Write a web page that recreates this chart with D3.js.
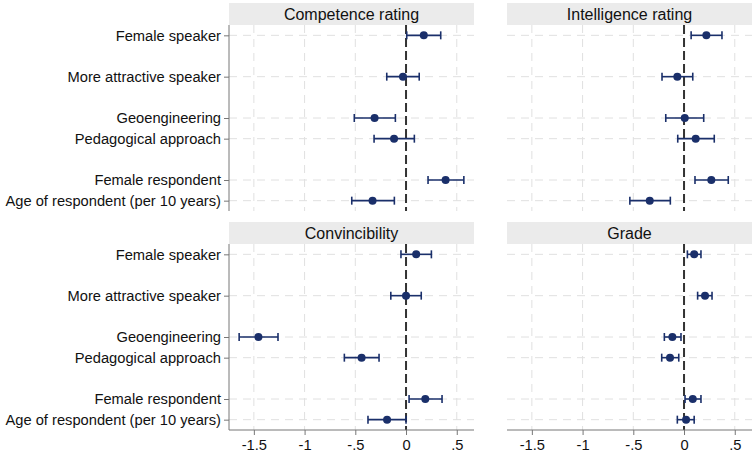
<!DOCTYPE html>
<html lang="en">
<head>
<meta charset="utf-8">
<title>coefficient plot</title>
<script src="https://d3js.org/d3.v7.min.js"></script>
<style type="text/css">
  body { margin: 0; background: #fff; }
  text { font-family: "Liberation Sans", Arial, sans-serif; fill: #111; }
  .grid { stroke: #e0e0e0; stroke-width: 1; stroke-dasharray: 8,6; }
  .zero { stroke: #333; stroke-width: 2; stroke-dasharray: 9,4; }
  .ci { stroke: #1a2f6a; stroke-width: 1.6; }
  .axisline { stroke: #777; stroke-width: 1; }
</style>
</head>
<body>
<script type="text/javascript">

// categories and their slot on the y axis (gaps between groups)
var categories = ["Female speaker", "More attractive speaker", "Geoengineering",
                  "Pedagogical approach", "Female respondent", "Age of respondent (per 10 years)"];
var slots = [1, 3, 5, 6, 8, 9];

var xTicks = [-1.5, -1, -0.5, 0, 0.5];
var xTickLabels = ["-1.5", "-1", "-.5", "0", ".5"];

var panelTitles = ["Competence rating", "Intelligence rating", "Convincibility", "Grade"];

// estimates and 95% CIs per panel
var competenceEst = [0.175, -0.03, -0.31, -0.118, 0.39, -0.33];
var competenceLo  = [0.007, -0.19, -0.51, -0.315, 0.217, -0.535];
var competenceHi  = [0.342, 0.13, -0.105, 0.082, 0.57, -0.115];

var intelligenceEst = [0.22, -0.066, 0.007, 0.115, 0.269, -0.338];
var intelligenceLo  = [0.07, -0.217, -0.18, -0.062, 0.108, -0.534];
var intelligenceHi  = [0.374, 0.086, 0.194, 0.298, 0.436, -0.135];

var convincEst = [0.10, 0.0, -1.455, -0.438, 0.19, -0.187];
var convincLo  = [-0.05, -0.15, -1.645, -0.608, 0.03, -0.375];
var convincHi  = [0.25, 0.15, -1.262, -0.266, 0.355, 0.0];

var gradeEst = [0.10, 0.207, -0.115, -0.138, 0.086, 0.02];
var gradeLo  = [0.033, 0.134, -0.194, -0.22, 0.01, -0.066];
var gradeHi  = [0.167, 0.276, -0.03, -0.052, 0.167, 0.10];

var w = 755, h = 459;

var svg = d3.select("body").append("svg")
            .attr("width", w)
            .attr("height", h);

var cols = [{x0: 229, x1: 474}, {x0: 507, x1: 752}];
var rows = [{top: 3, plotTop: 25, plotBottom: 211}, {top: 222, plotTop: 244, plotBottom: 430}];

var panels = [
  {title: panelTitles[0], est: competenceEst, lo: competenceLo, hi: competenceHi, c: 0, r: 0},
  {title: panelTitles[1], est: intelligenceEst, lo: intelligenceLo, hi: intelligenceHi, c: 1, r: 0},
  {title: panelTitles[2], est: convincEst, lo: convincLo, hi: convincHi, c: 0, r: 1},
  {title: panelTitles[3], est: gradeEst, lo: gradeLo, hi: gradeHi, c: 1, r: 1}
];

panels.forEach(function(p) {
  var col = cols[p.c], row = rows[p.r];

  var xScale = d3.scaleLinear()
                 .domain([-1.745, 0.67])
                 .range([col.x0, col.x1]);

  var yScale = d3.scaleLinear()
                 .domain([0.5, 9.5])
                 .range([row.plotTop, row.plotBottom]);

  var g = svg.append("g");

  // header strip
  g.append("rect")
   .attr("x", col.x0).attr("y", row.top)
   .attr("width", col.x1 - col.x0).attr("height", row.plotTop - row.top)
   .attr("fill", "#ebebeb");

  g.append("text")
   .attr("x", (col.x0 + col.x1) / 2)
   .attr("y", row.top + 17)
   .attr("text-anchor", "middle")
   .attr("font-size", "16px")
   .text(p.title);

  // grid lines
  g.selectAll("line.vgrid").data(xTicks.filter(d => d !== 0)).enter()
   .append("line").attr("class", "grid")
   .attr("x1", d => xScale(d)).attr("x2", d => xScale(d))
   .attr("y1", row.plotTop).attr("y2", row.plotBottom);

  g.selectAll("line.hgrid").data(slots).enter()
   .append("line").attr("class", "grid")
   .attr("x1", col.x0).attr("x2", col.x1)
   .attr("y1", d => yScale(d)).attr("y2", d => yScale(d));

  // zero reference line
  g.append("line").attr("class", "zero")
   .attr("x1", xScale(0)).attr("x2", xScale(0))
   .attr("y1", row.plotTop).attr("y2", row.plotBottom);

  // y axis on left column
  if (p.c === 0) {
    var yAxis = d3.axisLeft(yScale)
                  .tickValues(slots)
                  .tickSize(5)
                  .tickPadding(3)
                  .tickFormat((d, i) => categories[i]);
    var ya = g.append("g")
              .attr("transform", `translate(${col.x0}, 0)`)
              .call(yAxis);
    ya.select(".domain").remove();
    ya.append("line").attr("class", "axisline")
      .attr("x1", 0).attr("x2", 0)
      .attr("y1", row.plotTop).attr("y2", row.plotBottom);
    ya.selectAll(".tick line").attr("stroke", "#777");
    ya.selectAll(".tick text").attr("font-size", "14.7px").attr("fill", "#111")
      .attr("font-family", "Liberation Sans, Arial, sans-serif");
  }

  // x axis on bottom row
  if (p.r === 1) {
    var xAxis = d3.axisBottom(xScale)
                  .tickValues(xTicks)
                  .tickSize(5)
                  .tickPadding(5)
                  .tickFormat((d, i) => xTickLabels[i]);
    var xa = g.append("g")
              .attr("transform", `translate(0, ${row.plotBottom})`)
              .call(xAxis);
    xa.select(".domain").remove();
    xa.append("line").attr("class", "axisline")
      .attr("x1", col.x0).attr("x2", col.x1)
      .attr("y1", 0).attr("y2", 0);
    xa.selectAll(".tick line").attr("stroke", "#777");
    xa.selectAll(".tick text").attr("font-size", "14.7px").attr("fill", "#111")
      .attr("font-family", "Liberation Sans, Arial, sans-serif");
  }

  // confidence intervals with caps
  var idx = d3.range(categories.length);
  g.selectAll("line.cibar").data(idx).enter()
   .append("line").attr("class", "ci")
   .attr("x1", i => xScale(p.lo[i])).attr("x2", i => xScale(p.hi[i]))
   .attr("y1", i => yScale(slots[i])).attr("y2", i => yScale(slots[i]));

  g.selectAll("line.capl").data(idx).enter()
   .append("line").attr("class", "ci")
   .attr("x1", i => xScale(p.lo[i])).attr("x2", i => xScale(p.lo[i]))
   .attr("y1", i => yScale(slots[i]) - 4).attr("y2", i => yScale(slots[i]) + 4);

  g.selectAll("line.caph").data(idx).enter()
   .append("line").attr("class", "ci")
   .attr("x1", i => xScale(p.hi[i])).attr("x2", i => xScale(p.hi[i]))
   .attr("y1", i => yScale(slots[i]) - 4).attr("y2", i => yScale(slots[i]) + 4);

  g.selectAll("circle").data(idx).enter()
   .append("circle")
   .attr("cx", i => xScale(p.est[i]))
   .attr("cy", i => yScale(slots[i]))
   .attr("r", 4)
   .attr("fill", "#1a2f6a");
});

</script>
</body>
</html>
